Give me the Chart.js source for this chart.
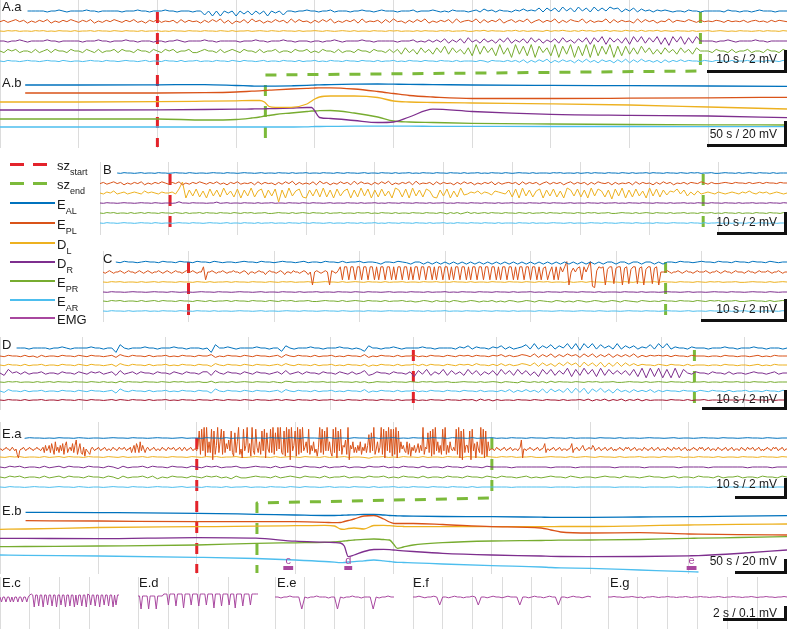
<!DOCTYPE html>
<html>
<head>
<meta charset="utf-8">
<script src="https://cdn.jsdelivr.net/npm/chart.js@4.4.1/dist/chart.umd.min.js"></script>
<style>
  body { margin: 0; background: #fff; }
  #page { position: relative; width: 787px; height: 629px; overflow: hidden; font-family: "Liberation Sans", Arial, sans-serif; color: #1a1a1a; }
  canvas { position: absolute; }
  .lbl { position: absolute; font-size: 13px; line-height: 13px; white-space: nowrap; }
  .lbl sub { font-size: 9px; vertical-align: -5px; line-height: 0; }
  .scl { position: absolute; right: 10px; font-size: 12px; line-height: 12px; white-space: nowrap; }
  .bar { position: absolute; background: #111; }
  .key { position: absolute; left: 10px; width: 45px; }
</style>
</head>
<body>
<div id="page">
  <canvas id="chartA"></canvas>
  <canvas id="chartB"></canvas>
  <canvas id="chartC"></canvas>
  <canvas id="chartD"></canvas>
  <canvas id="chartE"></canvas>
  <canvas id="chartEc"></canvas>
  <canvas id="chartEd"></canvas>
  <canvas id="chartEe"></canvas>
  <canvas id="chartEf"></canvas>
  <canvas id="chartEg"></canvas>

  <div class="lbl" style="left:2px;top:0px">A.a</div>
  <div class="lbl" style="left:2px;top:76px">A.b</div>
  <div class="lbl" style="left:103px;top:163px">B</div>
  <div class="lbl" style="left:103px;top:252px">C</div>
  <div class="lbl" style="left:2px;top:338px">D</div>
  <div class="lbl" style="left:2px;top:427px">E.a</div>
  <div class="lbl" style="left:2px;top:504px">E.b</div>
  <div class="lbl" style="left:2px;top:576px">E.c</div>
  <div class="lbl" style="left:139px;top:576px">E.d</div>
  <div class="lbl" style="left:277px;top:576px">E.e</div>
  <div class="lbl" style="left:413px;top:576px">E.f</div>
  <div class="lbl" style="left:610px;top:576px">E.g</div>

  <!-- legend -->
  <div class="key" style="top:162.5px;height:3px;background:repeating-linear-gradient(90deg,#E3232B 0 14px,transparent 14px 23px)"></div>
  <div class="lbl" style="left:57px;top:159px">sz<sub>start</sub></div>
  <div class="key" style="top:181.5px;height:3px;background:repeating-linear-gradient(90deg,#7CBA3B 0 14px,transparent 14px 23px)"></div>
  <div class="lbl" style="left:57px;top:178px">sz<sub>end</sub></div>
  <div class="key" style="top:202.3px;height:1.5px;background:#0072BD"></div>
  <div class="lbl" style="left:57px;top:198px">E<sub>AL</sub></div>
  <div class="key" style="top:222.3px;height:1.5px;background:#D95319"></div>
  <div class="lbl" style="left:57px;top:218px">E<sub>PL</sub></div>
  <div class="key" style="top:242.3px;height:1.5px;background:#EDB120"></div>
  <div class="lbl" style="left:57px;top:238px">D<sub>L</sub></div>
  <div class="key" style="top:261.3px;height:1.5px;background:#7E2F8E"></div>
  <div class="lbl" style="left:57px;top:257px">D<sub>R</sub></div>
  <div class="key" style="top:280.3px;height:1.5px;background:#77AC30"></div>
  <div class="lbl" style="left:57px;top:276px">E<sub>PR</sub></div>
  <div class="key" style="top:299.3px;height:1.5px;background:#4DBEEE"></div>
  <div class="lbl" style="left:57px;top:295px">E<sub>AR</sub></div>
  <div class="key" style="top:317.3px;height:1.5px;background:#A8479F"></div>
  <div class="lbl" style="left:57px;top:313px">EMG</div>

  <!-- scale bars -->
  <div class="scl" style="top:53px">10 s / 2 mV</div>
  <div class="bar" style="left:707px;top:70px;width:80px;height:2.5px"></div>
  <div class="bar" style="left:784px;top:50px;width:2.5px;height:22px"></div>
  <div class="scl" style="top:128px">50 s / 20 mV</div>
  <div class="bar" style="left:707px;top:144px;width:80px;height:2.5px"></div>
  <div class="bar" style="left:784px;top:121px;width:2.5px;height:25px"></div>
  <div class="scl" style="top:216px">10 s / 2 mV</div>
  <div class="bar" style="left:717px;top:232px;width:70px;height:2.5px"></div>
  <div class="bar" style="left:784px;top:212px;width:2.5px;height:22px"></div>
  <div class="scl" style="top:303px">10 s / 2 mV</div>
  <div class="bar" style="left:701px;top:319px;width:86px;height:2.5px"></div>
  <div class="bar" style="left:784px;top:299px;width:2.5px;height:22px"></div>
  <div class="scl" style="top:393px">10 s / 2 mV</div>
  <div class="bar" style="left:702px;top:407px;width:85px;height:2.5px"></div>
  <div class="bar" style="left:784px;top:390px;width:2.5px;height:19px"></div>
  <div class="scl" style="top:478px">10 s / 2 mV</div>
  <div class="bar" style="left:735px;top:496px;width:52px;height:2.5px"></div>
  <div class="bar" style="left:784px;top:478px;width:2.5px;height:20px"></div>
  <div class="scl" style="top:555px">50 s / 20 mV</div>
  <div class="bar" style="left:735px;top:571px;width:52px;height:2.5px"></div>
  <div class="bar" style="left:784px;top:559px;width:2.5px;height:14px"></div>
  <div class="scl" style="top:607px">2 s / 0.1 mV</div>
  <div class="bar" style="left:723px;top:618px;width:64px;height:2.5px"></div>
  <div class="bar" style="left:784px;top:606px;width:2.5px;height:14px"></div>
</div>

<script>
// ! COLOURS
const BLUE = "#0072BD", ORANGE = "#D95319", YELLOW = "#EDB120", PURPLE = "#7E2F8E";
const GREEN = "#77AC30", LIGHTBLUE = "#4DBEEE", DARKRED = "#A2142F", EMG = "#A8479F";
const SZ_START = "#E3232B", SZ_END = "#7CBA3B", GRID = "#DCDCDC";

// ! DATA
// fast traces are written one character per sample: digits ("5" = 0) or letters ("m" = 0), "_" = no sample
const digits = (s) => [...s.replace(/\s/g, "")].map((c) => (c === "_" ? null : c.charCodeAt(0) - 53));
const letters = (s) => [...s.replace(/\s/g, "")].map((c) => (c === "_" ? null : c.charCodeAt(0) - 109));

// A.a : 100 s window
const aaSeconds = 100, aaStart = 20, aaEnd = 89;
const aaEAL = digits("_______555 5545565455 5565545555 5455565545 5565545554 5515050535 0525152505 3515545565 5455645554 5565545655 5455564555 6545465554 5647564655 4657565848 5849584958 4958597847 5847564656 5455465545 5555465545 5456555455 5");
const aaEPL = digits("4635746253 6472536475 3647253647 5364735264 7354627364 5263748261 5372846253 7462837452 6374825364 7283546273 8452637482 5364728356 4827364825 7364825736 4826375482 6354827364 5283746254 8365475364 5465364546 3564536465 4");
const aaDL = digits("5465645546 5645465546 4556465546 5465546455 6454655465 5465546546 4556456546 5465546455 6546545654 6455465546 5645546465 5465645564 4657465546 5746456547 4657546475 6465746547 5647465746 5465546455 6456545465 5456465546 5");
const aaDR = digits("5545565455 5565545555 5455565545 5565545554 5545565455 5565545555 5455565545 5565545554 5545565455 5565545555 5455564546 4647364738 4637463748 3647384736 4738463748 2849284738 2949384928 1949283955 5545565455 5565545555 5");
const aaEPR = digits("5465645546 4564655465 5465464556 4655465546 5465645564 4565546456 5465546455 6455465564 5465546455 4655465546 4637463746 3748374637 2938472937 1938291847 2918391829 1928391828 3738473637 4637463755 5465546455 6455465546 5");
const aaEAR = digits("5465545655 4565546545 5456554655 4565545645 5465546455 6455465546 5465545645 5465546455 6454655465 5465546455 6454655465 5465546455 5465365546 4637263748 2637462738 3627462738 2738463627 3647465546 5465546455 6455465546 5");

// A.b : 500 s, slow potentials
const abSeconds = 500, abStart = 100, abEnd = 168.6;
const abTime = [0, 16, 50, 100, 130, 150, 160, 165, 168, 171, 175, 185, 195, 198, 200, 203, 210, 225, 240, 250, 260, 275, 300, 350, 400, 450, 500];
const abEAL = [null, 0, 0, 0.2, 0.4, -0.5, -1, -1.2, -1.2, -1.2, -1.1, -0.8, -0.4, -0.2, 0, 0.1, 0.4, 0.8, 1, 0.8, 0.6, 0.4, 0, -0.4, -0.7, -1, -1.3];
const abEPL = [null, 0, 0, 0, 0.3, 1, 1.8, 2.2, 2.5, 2.8, 3.2, 4, 4.6, 4.8, 5, 5.1, 5.2, 4, 1.5, -0.5, -2.5, -4, -5.5, -5.5, -5.2, -4.8, -4.3];
const abDL = [0, 0, 0, 0.3, 0.8, 1.2, 1.5, 1.5, 0, -4.5, -5.3, -5.3, -2, 1, 3, 5, 6, 6, 4.5, 1, 0, -0.5, -1, -1.8, -3, -5, -7];
const abDR = [0, 0, 0, 0.2, 0.5, 0.8, 1, 1.1, 1.2, 1.3, 1.5, 2, 2.5, 2.5, -1, -7.5, -8.5, -10.5, -12.5, -12, -7, 0.8, -1.5, -4.3, -5.3, -6, -7.7];
const abEPR = [0, 0, 0, 0, -1, -0.5, 1, 2, 3, 3.5, 4.5, 6, 7.5, 8, 8, 8.3, 8.5, 6, 2, -2, -3, -3.5, -4.3, -5, -5.5, -5.8, -6];
const abEAR = [0, 0, 0, 0, 0, 0, 0, 0, 0, 0, 0, 0, 0.2, 0.3, 0.5, 0.5, 0.6, 0.8, 0.8, 0.8, 0.8, 0.7, 0.6, 0.5, 0.5, 0.4, 0.3];

// B : 100 s
const bSeconds = 100, bStart = 10.2, bEnd = 87.8;
const bEAL = digits("_____54655 4564554655 4565546545 5456554655 4565545645 5465546455 6455465546 5465545645 5465546455 6454655465 5465546455 6454655465 4565546455 5465645546 4564655465 5465464556 4655465546 5465645564 4565546456 5465546455 5");
const bEPL = digits("4635746253 6472536475 3647253647 5364735264 7354627364 5263748263 5372846253 7462837452 6374825364 7283546273 6452637462 5364726356 4627364625 7364625736 4626375462 6354627364 5263746254 6365475364 4565465546 4564655465 5");
const bDL = letters("mlnmolmnlm nmlomnmlnm mnlqxhpjqi ohqjpirkoi qhpjrioqhp jqdphrjoqi hpjqiriphq joqhpirjqh piqjohrpiq hrjpiqoihp jqhoirklnm olnmkonmlp iqhrjpioqh pjqiohrpjq iphrjqoipg qjrhpiqjoh rjqipkonql pjnkolmnml nmlmnmlnmo mlnmnlmnml m");
const bDR = digits("5465545655 4565546545 5459554655 5455845645 5465546455 6455465546 5465545645 5465546455 6454655465 5465546455 6454655465 5465546455 6455465546 5465545645 5465546455 6454655465 5465546455 6454655465 5465546455 6455465546 5");
const bEPR = digits("5465645546 4564655465 5465464556 4655465546 5465645564 4565546456 5465546455 6455465564 5465546455 4655465546 5364635746 4564655465 5465464556 4655465546 5465645564 4565546456 5465546455 6455465564 5465546455 4655465546 5");
const bEAR = digits("5465545655 4565546545 5456554655 4565545645 5465546455 6455465546 5465545645 5465546455 6454655465 5465546455 6454655465 5465546455 5465546455 4565545645 5456554655 4565546545 5465545655 5465546455 6455465546 5465546455 5");

// C : 80 s
const cSeconds = 80, cStart = 10, cEnd = 65.8;
const cEAL = digits("___5465545 6554655465 5465546545 5456554655 4565545645 5465546455 6455425546 5425525252 5252525252 5252525252 5252525252 5252525255 2552552552 5255465545 6554655465 5465546545 5");
const cEPL = letters("mlmnmlmmnm lmnmmlmnml mnmlmmnmlm nmlmnmmlmn mmnmlmmqgm mnmlmmnmlm mnmmlmnmkm mlmnmmkmnm mlmnmkmmln mmlmnmkmcm nmlmnmcnml nqgqqgqqgq qgqqgqqgqg qqgqqgqgqq gqqgqgqqgq qgqqgqgqqg qqgqgqqgqq gqgqqgqqgq qgqqgqgqqg qqgqgqqgqq gqqgqgpqgm qgqgqmqucm pmpqgqmqub anqpqcoqqd pqqcpqdoqq dpqcoqqdpq cmmmnmlmmn mlmnmmlmnm mmnmlmmnml mnmmlmnmmm lmnmmlmnmm mnmlmmnmlmm");
const cDL = digits("5465645546 4564655465 5465464556 4655465546 5465645564 4565546456 5465546455 6455465564 5465546455 4655465546 5465645546 4564655465 5465464556 4655465546 5465645564 4565546456 5");
const cDR = digits("5465545655 4565546545 5456554655 4565545645 5465546455 6455465546 5465545645 5465546455 6454655465 5465546455 6454655465 5465546455 5465546455 4565545645 5456554655 4565546545 5");
const cEPR = digits("5465645546 4564655465 5465464556 4655465546 5465645564 4565546456 5465546455 6453465364 5365346535 4635365346 5365436535 3653465346 5365436545 4655465546 5465645564 4565546456 5");
const cEAR = digits("5465546455 6454655465 5465546455 4565545645 5456554655 4565546545 5465545655 5465546455 6455465546 5465546455 5465545655 4565546545 5456554655 4565545645 5465546455 6455465546 5");

// D : 95 s, seven channels
const dSeconds = 95.2, dStart = 50, dEnd = 84;
const dEAL = digits("____555455 5545565455 5565545518 5455565545 5565545554 5185565455 5565545527 5455565545 5565545427 5545565455 5565545555 4657465546 5746456849 4758475949 3959485749 4757465849 5946554655 5455565545 5565545554 5");
const dEPL = digits("5465546453 6455465546 5465545637 5465546455 6454655465 5735465546 5465545637 5465546455 6454655473 5465546455 6454655465 4656465546 5746457648 3748374857 3848374837 4748364656 5646554655 5455465545 5456454655 5");
const dDL = digits("5465546455 6455465546 5465545637 5465546455 6454655465 5375465546 5465545647 5465546455 6454655463 5465546455 6464655465 4656475546 4746457648 3847384958 2948392839 3847465546 5465546455 5455465545 5456454655 5");
const dDR = digits("5385646455 6455465546 5465645637 4564655465 5465465546 6375465546 5465545647 4564655465 5465464573 4655465546 2748364837 4638473647 3847384736 2848374928 3948293847 4738291929 1819185465 5465546455 4565545645 5");
const dEPR = digits("5465645546 4564655465 5465464537 4655465546 5465645564 4735546456 5465546437 6455465564 5465546463 4655465546 5465645564 4565546456 5365437546 4637465546 5465645564 4565546456 5465546455 6455465564 5465546455 5");
const dEAR = digits("5375546455 6455465546 5465545628 5465546455 6454655465 5285465546 5465545637 5465546455 6454655473 5465546455 6454655465 5465546455 4647364746 3828473929 3918493728 4637464736 4655465546 5465546455 6455465546 5");
const dX = digits("5465546455 6455465546 5465545646 5465546455 6454655465 5465465546 5465545646 5465546455 6454655465 5465546455 6454655465 5465637463 6455465546 5465546455 6473647364 7364736455 5465546455 6455465546 5465546455 5");

// E.a : 80 s
const eaSeconds = 80, eaStart = 20, eaEnd = 50;
const eaEAL = digits("_____46554 5465546545 5456554655 4565545645 5465546455 6455465546 5465545645 5465546455 6454655465 5465546455 6454655465 5465546455 5465546455 4565545645 5456554655 4565546545 5");
const eaEPL = letters(
  "mmlmmnmmlm nmlmjhlmmn mlmmnmmlmm nmmlmnkolm okpmjqlnko lpjoqkmnlp korjmpkjni mlkjmnmlmm nmlmmnmlmm lmnmmlmnmm mnmlmmnkmo kpnkqlomkm nmlmmnmlmm lmnmmlmnmm mnmlmmnmlm nmlmmnmlmm " +
  "lowjxlyiyk qkxgwjoykq xjwkpmrlwk ivkqyjmhxl oykpiyljxn kqjwlxhvmk xkyjvlymyk jwiykxgylo wiyjxkylnq kxjolqkmin ykxjwlylqk ixkyhwlxjo nrjygomqkn kolqjnlpko ukvlyjmqkn yjxhwlykxi xjyhwkqmol kqjpinlokm pkolyjnmvk wixjylqkoj xlyjokqmln lxjyhwgxko okwgxlphqm kyjxhwiqlm " +
  "mmlmnmmlmm nmlmmnmlmm mlmnrhmmlm mnmmlmmnml mmnpkmmlmm nmlmmnmlmm mlmmnpkmmn mlmnomlmmn mmonlmmnml mmnmlmmnml mlmmnmmlmn mnmlmmnmlm mmlmnmmlmm nmlmmnmlmm mlmnmmlmnm mmnmlmmnml mlmmnmmlmn mnmlmmnmlm mmlmnmmlmm nmlmmnmlmm mlmnmmlmnm mmnmlmmnml mlmmnmmlmn mnmlmmnmlm m");
const eaDL = digits("5465645546 4564655465 5465464556 4655465546 5465645564 4565546456 5465546455 6455425564 5465546455 4655465546 5465645564 4565546456 5465546455 6455465564 5465546455 4655465546 5");
const eaDR = digits("5465645546 4564655465 5465364556 4655465546 5465645564 4565546456 5465546455 6455465564 5465546455 4655465546 5555455555 5545555455 5555545555 5455555545 5555455555 5545555455 5");
const eaEPR = digits("5465645546 4564655465 5465364556 4635465546 5465645364 4565546456 5465546455 6455465564 5465546455 4655465546 5465545645 4565546545 5456554655 4565545645 5465546455 6455465546 5");
const eaEAR = digits("5465545655 4565546545 5456554655 4565545645 5465546455 6455465546 5465545645 5465546455 6454655465 5465546455 5555455555 5545555455 5555545555 5455555545 5555455555 5545555455 5");

// E.b : 400 s, slow potentials
const ebSeconds = 400, ebStart = 100, ebEnd = 130.6;
const ebTime = [0, 13, 50, 100, 130, 150, 165, 170, 173, 175, 177, 180, 185, 190, 195, 198, 200, 202, 205, 210, 225, 250, 275, 280, 285, 300, 325, 350, 355, 375, 400];
const ebEAL = [null, -0.3, -0.6, -1.3, -2.3, -3, -3.5, -3.5, -3.3, -3.2, -3, -2.8, -2.3, -2.3, -3, -3.5, -3.7, -3.8, -4, -4.2, -4.5, -4.7, -5.2, -5.3, -5.3, -5.3, -5, -4.7, -4.6, -4.2, -3.7];
const ebEPL = [null, 0.3, 0, -0.7, -0.7, -0.7, -1.3, -1.7, -1.5, -0.5, 0.5, 2, 5, 5.5, 2, -1, -2.3, -2.5, -2.5, -2.5, -3.5, -5.7, -7, -9, -11, -12, -11.7, -13, -13.2, -13.7, -14];
const ebDL = [-0.3, 0, 1.5, 2.3, 2.8, 3.3, 3.7, 3, 0, -0.3, 0.5, 1, 0, 3.5, 3.7, 3.3, 3, 2.7, 2.5, 2.3, 2.3, 2.3, 2.3, 2.4, 2.5, 2.5, 3.2, 4, 4.1, 4.6, 5];
const ebDR = [-0.3, -0.4, -0.7, 0.3, -0.2, -3.2, -4.1, -4.5, -5, -8, -18.7, -17, -13.5, -11.5, -11.3, -11.6, -12, -12.3, -12.8, -13.5, -15.3, -17, -18, -18.3, -18.5, -18.7, -18.5, -17.8, -17.6, -15.5, -12];
const ebEPR = [0.3, 0.5, 1, 2, 3.7, 4.2, 4.6, 5, 5.5, 6, 6.5, 7, 7.7, 8, 7.5, 7, 3, -1.3, 0, 2, 4.3, 6, 6.5, 6.7, 6.8, 7, 7.5, 8.7, 8.8, 9.5, 10.3];
const ebEAR = [0, -0.3, -1, -2.3, -3.5, -5, -6.5, -7.2, -7.7, -7.5, -7, -6.7, -5.8, -5, -5.8, -6.5, -7, -7.3, -7.5, -7.8, -9, -10.7, -12, -12.5, -12.8, -13.3, -15, -16.7, -17, null, null];
const ebMarkLabels = ["c", "d", "e"];
const ebMarkFrom = [144, 175, 349];
const ebMarkTo = [149, 179, 354];

// E.c - E.g : EMG snippets
const ecEMG = letters("mhmmhmmhmh mmhmmhmmhm opocoodooc ooeoodooco oeoocoodoo coeoodoocp oeoodoocoo eoodoocoeo o");
const edEMG = letters("nnannnnann nnannnnppp eppppdpppp bppppepppp dppppepppp bppppdpppp epppbppppd ppppepppp p");
const eeEMG = letters("mmlmmnmmma mlmmnmmmlm mamlmmnmml mmmamlmmnm m");
const efEMG = letters("mmnmlmmnmc mmlmnmmlmm nmcmmlmnmm lmnmmmcmml mnmmlmnmmc mmlmnmmlmn m");
const egEMG = letters("mmnmmlmmnm lmkmmnmlmm nmmlmmnmlm mnmmlmmnml mmnmmlmmnm lmmnmmlmmn m");

// ! DATASET HELPERS (y unit = 1 px, rows are px below the canvas top)
const sig = (vals, seconds, row, gain, color, axis = "x") => ({
  data: vals.map((v, i) => ({ x: (seconds * i) / (vals.length - 1), y: v === null ? null : -row + v * gain })),
  borderColor: color, borderWidth: 1, xAxisID: axis,
});
const slow = (times, vals, row, color, axis = "x") => ({
  data: times.map((t, i) => ({ x: t, y: vals[i] === null ? null : -row + vals[i] })),
  borderColor: color, borderWidth: 1.3, xAxisID: axis, cubicInterpolationMode: "monotone",
});
const cue = (xs, rows, color, axis = "x") => ({
  data: xs.map((x, i) => ({ x, y: -rows[i] })),
  borderColor: color, borderWidth: 3, borderDash: [11, 10], xAxisID: axis,
});
const tag = (from, to, row, color, axis) => ({
  data: [{ x: from, y: -row }, { x: to, y: -row }],
  borderColor: color, borderWidth: 4, xAxisID: axis,
});

const xScale = (max, step, show = true) => ({
  type: "linear", min: 0, max, display: show,
  ticks: { display: false, stepSize: step },
  grid: { color: GRID, lineWidth: 1, drawTicks: false },
  border: { display: false },
});

// letters above the E.b markers
const markText = {
  id: "markText",
  afterDatasetsDraw(chart, args, opts) {
    if (!opts.labels) return;
    const ctx = chart.ctx, xs = chart.scales[opts.axis], ys = chart.scales.y;
    ctx.save();
    ctx.fillStyle = opts.color;
    ctx.font = "11px 'Liberation Sans', Arial, sans-serif";
    ctx.textAlign = "center";
    opts.labels.forEach((l, i) => {
      ctx.fillText(l, xs.getPixelForValue((opts.from[i] + opts.to[i]) / 2), ys.getPixelForValue(-opts.row));
    });
    ctx.restore();
  },
};

function panel(id, left, top, w, h, scales, datasets, marks) {
  const cv = document.getElementById(id);
  cv.width = w;
  cv.height = h;
  cv.style.left = left + "px";
  cv.style.top = top + "px";
  return new Chart(cv.getContext("2d"), {
    type: "line",
    data: { datasets },
    options: {
      responsive: false, animation: false, events: [],
      layout: { padding: 0 },
      elements: { point: { radius: 0 }, line: { tension: 0, borderJoinStyle: "round" } },
      plugins: { legend: { display: false }, tooltip: { enabled: false }, markText: marks || {} },
      scales: { ...scales, y: { type: "linear", min: -h, max: 0, display: false } },
    },
    plugins: [markText],
  });
}

// ! PANEL A (A.a on x, A.b on xb, same pixels)
const toAb = abSeconds / aaSeconds;
panel("chartA", 0, 0, 787, 148, { x: xScale(aaSeconds, 10), xb: xScale(abSeconds, 50, false) }, [
  sig(aaEAL, aaSeconds, 11, 1, BLUE),
  sig(aaEPL, aaSeconds, 21, 0.7, ORANGE),
  sig(aaDL, aaSeconds, 31, 0.35, YELLOW),
  sig(aaDR, aaSeconds, 41, 1.1, PURPLE),
  sig(aaEPR, aaSeconds, 51, 1.6, GREEN),
  sig(aaEAR, aaSeconds, 61, 0.6, LIGHTBLUE),
  slow(abTime, abEAL, 85, BLUE, "xb"),
  slow(abTime, abEPL, 93, ORANGE, "xb"),
  slow(abTime, abDL, 102, YELLOW, "xb"),
  slow(abTime, abDR, 110, PURPLE, "xb"),
  slow(abTime, abEPR, 119, GREEN, "xb"),
  slow(abTime, abEAR, 127, LIGHTBLUE, "xb"),
  cue([aaStart, aaStart], [12, 147], SZ_START),
  cue([aaEnd * toAb, aaEnd * toAb, abEnd, abEnd], [12, 71, 75, 147], SZ_END, "xb"),
]);

// ! PANEL B
panel("chartB", 100, 162, 687, 73, { x: xScale(bSeconds, 10) }, [
  sig(bEAL, bSeconds, 11, 0.35, BLUE),
  sig(bEPL, bSeconds, 21, 0.6, ORANGE),
  sig(bDL, bSeconds, 31, 1, YELLOW),
  sig(bDR, bSeconds, 41, 0.3, PURPLE),
  sig(bEPR, bSeconds, 51, 0.45, GREEN),
  sig(bEAR, bSeconds, 61, 0.35, LIGHTBLUE),
  cue([bStart, bStart], [12, 73], SZ_START),
  cue([bEnd, bEnd], [12, 73], SZ_END),
]);

// ! PANEL C
panel("chartC", 103, 251, 684, 71, { x: xScale(cSeconds, 10) }, [
  sig(cEAL, cSeconds, 11, 0.7, BLUE),
  sig(cEPL, cSeconds, 21, 1.3, ORANGE),
  sig(cDL, cSeconds, 31, 0.35, YELLOW),
  sig(cDR, cSeconds, 41, 0.3, PURPLE),
  sig(cEPR, cSeconds, 50, 0.5, GREEN),
  sig(cEAR, cSeconds, 60, 0.3, LIGHTBLUE),
  cue([cStart, cStart], [11, 71], SZ_START),
  cue([cEnd, cEnd], [11, 71], SZ_END),
]);

// ! PANEL D
panel("chartD", 0, 337, 787, 73, { x: xScale(dSeconds, 10) }, [
  sig(dEAL, dSeconds, 11, 1.1, BLUE),
  sig(dEPL, dSeconds, 19, 0.7, ORANGE),
  sig(dDL, dSeconds, 28, 0.7, YELLOW),
  sig(dDR, dSeconds, 36, 1.2, PURPLE),
  sig(dEPR, dSeconds, 45, 0.4, GREEN),
  sig(dEAR, dSeconds, 54, 0.7, LIGHTBLUE),
  sig(dX, dSeconds, 63, 0.45, DARKRED),
  cue([dStart, dStart], [13, 72], SZ_START),
  cue([dEnd, dEnd], [13, 72], SZ_END),
]);

// ! PANEL E (E.a on x, E.b on xb)
const toEb = ebSeconds / eaSeconds;
panel("chartE", 0, 422, 787, 152, { x: xScale(eaSeconds, 10), xb: xScale(ebSeconds, 50, false) }, [
  sig(eaEAL, eaSeconds, 16, 0.3, BLUE),
  sig(eaEPL, eaSeconds, 27, 1.8, ORANGE),
  sig(eaDL, eaSeconds, 35, 0.4, YELLOW),
  sig(eaDR, eaSeconds, 45, 0.8, PURPLE),
  sig(eaEPR, eaSeconds, 55, 0.9, GREEN),
  sig(eaEAR, eaSeconds, 65, 0.4, LIGHTBLUE),
  slow(ebTime, ebEAL, 90, BLUE, "xb"),
  slow(ebTime, ebEPL, 99, ORANGE, "xb"),
  slow(ebTime, ebDL, 107, YELLOW, "xb"),
  slow(ebTime, ebDR, 116, PURPLE, "xb"),
  slow(ebTime, ebEPR, 125, GREEN, "xb"),
  slow(ebTime, ebEAR, 133, LIGHTBLUE, "xb"),
  ...ebMarkFrom.map((f, i) => tag(f, ebMarkTo[i], 146, EMG, "xb")),
  cue([eaStart, eaStart], [16, 151], SZ_START),
  cue([eaEnd * toEb, eaEnd * toEb, ebEnd, ebEnd], [16, 76, 81, 151], SZ_END, "xb"),
], { labels: ebMarkLabels, from: ebMarkFrom, to: ebMarkTo, axis: "xb", row: 142, color: EMG });

// ! PANELS E.c - E.g
panel("chartEc", 0, 577, 119, 52, { x: xScale(4, 1) }, [sig(ecEMG, 4, 20, 1, EMG)]);
panel("chartEd", 138, 577, 120, 52, { x: xScale(4, 1) }, [sig(edEMG, 4, 20, 1, EMG)]);
panel("chartEe", 275, 577, 119, 52, { x: xScale(4, 1) }, [sig(eeEMG, 4, 20, 1, EMG)]);
panel("chartEf", 413, 577, 178, 52, { x: xScale(6, 1) }, [sig(efEMG, 6, 20, 0.8, EMG)]);
panel("chartEg", 608, 577, 179, 52, { x: xScale(6, 1) }, [sig(egEMG, 6, 20, 0.5, EMG)]);
</script>
</body>
</html>
